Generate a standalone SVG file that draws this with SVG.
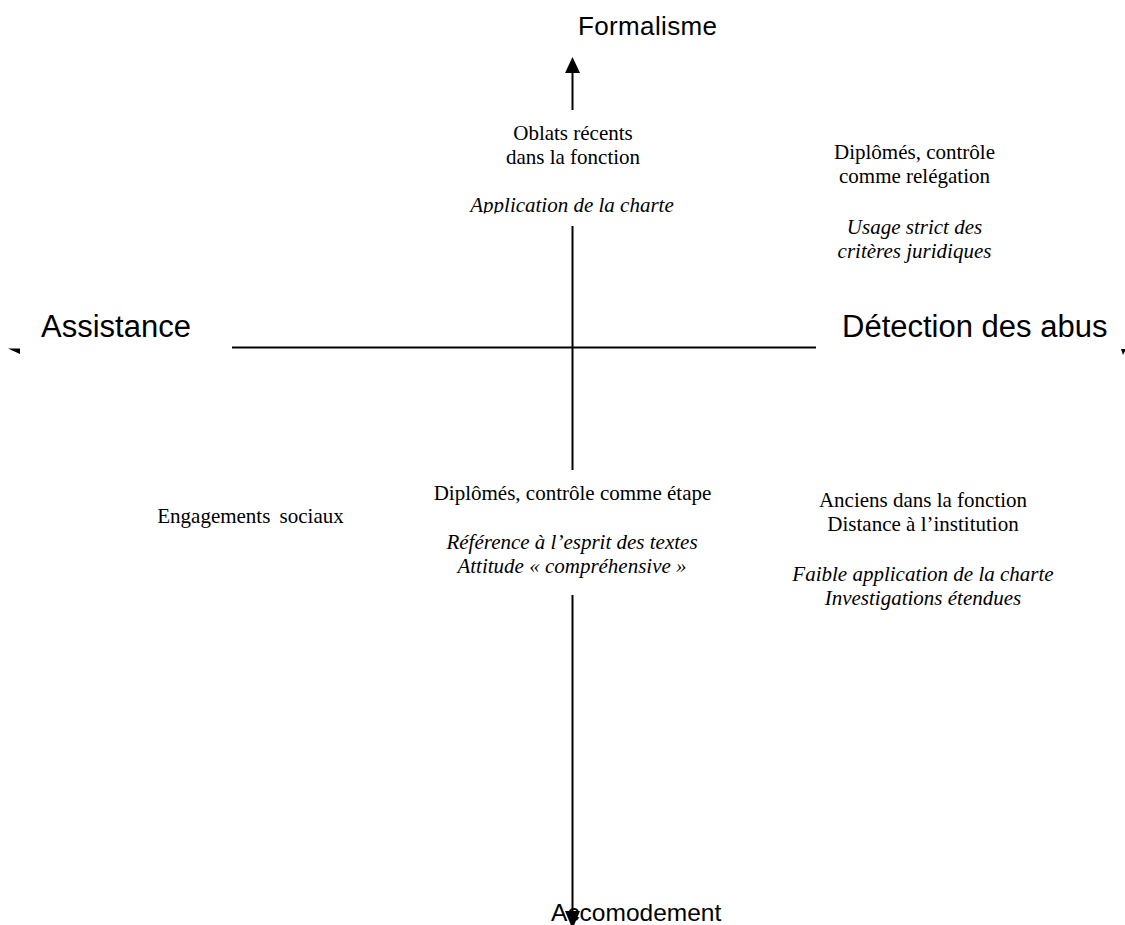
<svg xmlns="http://www.w3.org/2000/svg" width="1125" height="925" viewBox="0 0 1125 925">
<style>
.ax{stroke:#000;stroke-width:2;fill:none}
.ah{fill:#000;stroke:none}
.sans{font-family:"Liberation Sans",Arial,sans-serif;fill:#000}
.ser{font-family:"Liberation Serif","Times New Roman",serif;font-size:21px;fill:#000;text-anchor:middle}
.it{font-style:italic}
</style>
<defs>
<clipPath id="clipApp"><rect x="400" y="180" width="350" height="33.5"/></clipPath>
</defs>
<rect width="1125" height="925" fill="#fff"/>
<g id="connectors">
<line class="ax" x1="572.5" y1="72" x2="572.5" y2="110"/>
<polygon class="ah" points="572.5,57 565,73 580,73"/>
<line class="ax" x1="572.5" y1="226" x2="572.5" y2="470"/>
<line class="ax" x1="572.5" y1="595" x2="572.5" y2="912"/>
<polygon class="ah" points="572.5,929 565,911 580,911"/>
<line class="ax" x1="232" y1="347.5" x2="816" y2="347.5"/>
<polygon class="ah" points="8,348.5 20,348.5 20,354"/>
<polygon class="ah" points="1121,349 1125,349 1125,351 1123,355"/>
</g>
<g id="axis-formalisme"><text class="sans" x="578" y="35" font-size="26" textLength="139">Formalisme</text></g>
<g id="axis-assistance"><text class="sans" x="41" y="337" font-size="31">Assistance</text></g>
<g id="axis-detection"><text class="sans" x="842" y="337" font-size="31">Détection des abus</text></g>
<g id="axis-accomodement"><text class="sans" x="551" y="921" font-size="24.5">Accomodement</text></g>
<g id="node-oblats">
<text class="ser" x="573" y="140">Oblats récents</text>
<text class="ser" x="573" y="164">dans la fonction</text>
<text class="ser it" x="572" y="212" clip-path="url(#clipApp)">Application de la charte</text>
</g>
<g id="node-releg">
<text class="ser" x="914.5" y="159">Diplômés, contrôle</text>
<text class="ser" x="914.5" y="183">comme relégation</text>
<text class="ser it" x="914.5" y="234">Usage strict des</text>
<text class="ser it" x="914.5" y="258">critères juridiques</text>
</g>
<g id="node-etape">
<text class="ser" x="572.5" y="500">Diplômés, contrôle comme étape</text>
<text class="ser it" x="572" y="549">Référence à l’esprit des textes</text>
<text class="ser it" x="572" y="573">Attitude « compréhensive »</text>
</g>
<g id="node-anciens">
<text class="ser" x="923" y="507">Anciens dans la fonction</text>
<text class="ser" x="923" y="531">Distance à l’institution</text>
<text class="ser it" x="923" y="581">Faible application de la charte</text>
<text class="ser it" x="923" y="605">Investigations étendues</text>
</g>
<g id="node-engagements">
<text class="ser" x="250.5" y="523" word-spacing="4">Engagements sociaux</text>
</g>
</svg>
